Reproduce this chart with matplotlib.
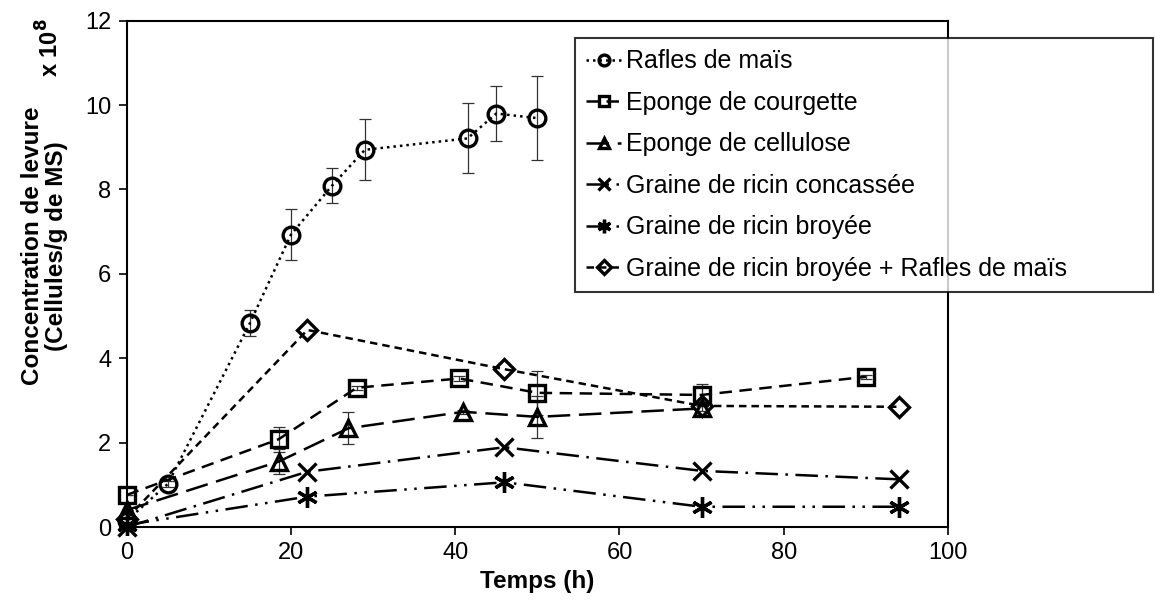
import matplotlib
matplotlib.use("Agg")
import matplotlib.pyplot as plt

plt.rcParams['font.family'] = ['Liberation Sans', 'DejaVu Sans']

# Temps (h) and yeast concentration (x 10^8 cells / g dry matter)
t_rafles = [0, 5, 15, 20, 25, 29, 41.5, 45, 50]
y_rafles = [0.15, 1.02, 4.83, 6.93, 8.09, 8.94, 9.21, 9.80, 9.69]
e_rafles = [0.05, 0.08, 0.31, 0.60, 0.42, 0.72, 0.83, 0.65, 1.0]

t_courgette = [0, 18.5, 28, 40.5, 50, 70, 90]
y_courgette = [0.76, 2.08, 3.30, 3.52, 3.18, 3.13, 3.56]
e_courgette = [0.0, 0.30, 0.05, 0.05, 0.52, 0.25, 0.05]

t_cellulose = [0, 18.5, 27, 41, 50, 70]
y_cellulose = [0.40, 1.55, 2.34, 2.73, 2.61, 2.81]
e_cellulose = [0.0, 0.30, 0.38, 0.05, 0.50, 0.05]

t_concassee = [0, 22, 46, 70, 94]
y_concassee = [0.0, 1.31, 1.89, 1.33, 1.13]

t_broyee = [0, 22, 46, 70, 94]
y_broyee = [0.05, 0.72, 1.06, 0.48, 0.48]

t_mix = [0, 22, 46, 70, 94]
y_mix = [0.20, 4.67, 3.74, 2.87, 2.85]

labels = [
    "Rafles de maïs",
    "Eponge de courgette",
    "Eponge de cellulose",
    "Graine de ricin concassée",
    "Graine de ricin broyée",
    "Graine de ricin broyée + Rafles de maïs",
]

x_ticks = [0, 20, 40, 60, 80, 100]
y_ticks = [0, 2, 4, 6, 8, 10, 12]

fig = plt.figure(figsize=(11.55, 6.06), dpi=100)
ax = fig.add_axes([126.7 / 1155, 1 - 527 / 606, (948 - 126.7) / 1155, (527 - 20.7) / 606])

lw = 1.8
ms = 12
mew = 2.4
err_kw = dict(ecolor='#333333', elinewidth=0.9, capsize=4, capthick=0.9, zorder=2)

common = dict(color='black', linewidth=lw, markersize=ms, markeredgewidth=mew,
              markerfacecolor='none', markeredgecolor='black', zorder=3,
              dash_capstyle='butt', solid_capstyle='butt')

ax.errorbar(t_rafles, y_rafles, yerr=e_rafles, fmt='none', **err_kw)
l1, = ax.plot(t_rafles, y_rafles, marker='o', linestyle=(0, (1, 1.6)), **common)

ax.errorbar(t_courgette, y_courgette, yerr=e_courgette, fmt='none', **err_kw)
l2, = ax.plot(t_courgette, y_courgette, marker='s', linestyle=(0, (5, 3)), **common)

ax.errorbar(t_cellulose, y_cellulose, yerr=e_cellulose, fmt='none', **err_kw)
l3, = ax.plot(t_cellulose, y_cellulose, marker='^', linestyle=(0, (9, 3.5)), **common)

l4, = ax.plot(t_concassee, y_concassee, marker='x', linestyle=(0, (9, 3, 1, 3)),
              **{**common, 'markersize': 13})

l5, = ax.plot(t_broyee, y_broyee, marker=(6, 2, 0), linestyle=(0, (9, 3, 1, 3, 1, 3)),
              **{**common, 'markersize': 15})

l6, = ax.plot(t_mix, y_mix, marker='D', linestyle=(0, (3, 2)),
              **{**common, 'markersize': 10.5})

ax.set_xlim(0, 100)
ax.set_ylim(0, 12)
ax.set_xticks(x_ticks)
ax.set_yticks(y_ticks)
ax.tick_params(axis='both', labelsize=17, direction='out', length=6, width=1.2,
               colors='black', pad=5)
for s in ax.spines.values():
    s.set_linewidth(1.5)
    s.set_color('black')
for l in (l1, l2, l3, l4, l5, l6):
    l.set_clip_on(False)

ax.set_xlabel("Temps (h)", fontsize=17.5, fontweight='bold', labelpad=4)
ax.set_ylabel("Concentration de levure\n(Cellules/g de MS)", fontsize=17.5,
              fontweight='bold', linespacing=1.05)
ax.yaxis.set_label_coords(-0.072, 0.555)
fig.text(50 / 1155, 1 - 48 / 606, r"x 10$^{\mathbf{8}}$", rotation=90, fontsize=17,
         fontweight='bold', ha='center', va='center')

leg = fig.legend([l1, l2, l3, l4, l5, l6], labels, loc='upper left',
                 bbox_to_anchor=(575 / 1155, 1 - 38 / 606, (1153 - 575) / 1155, 0.0),
                 mode='expand', borderaxespad=0, fontsize=18, frameon=True,
                 fancybox=False, edgecolor='black', handlelength=1.4,
                 handletextpad=0.2, labelspacing=0.7, markerscale=0.65,
                 borderpad=0.45)
leg.get_frame().set_linewidth(1.5)
leg.set_zorder(10)

fig.savefig("out.png", dpi=100, facecolor='white')
